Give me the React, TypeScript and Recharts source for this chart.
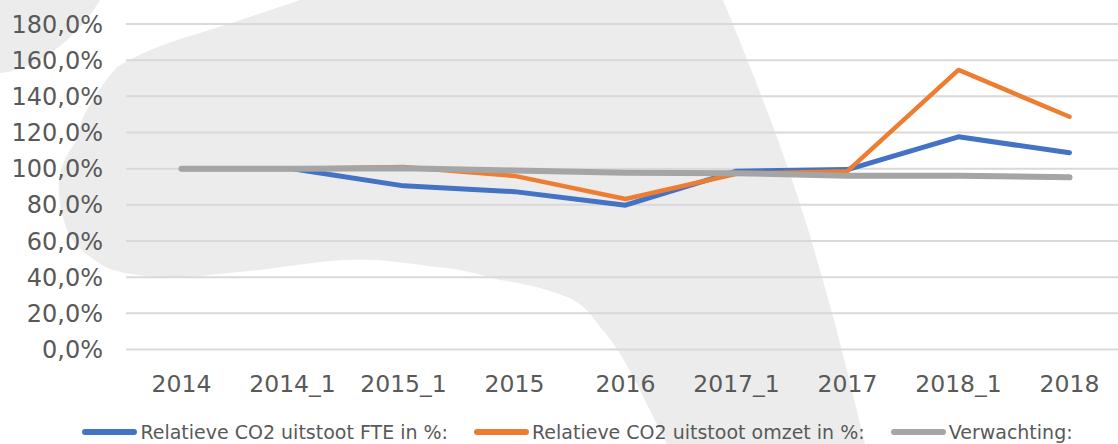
import React from "react";
import { LineChart, Line, XAxis, YAxis, CartesianGrid, Legend } from "recharts";

const categories = ["2014", "2014_1", "2015_1", "2015", "2016", "2017_1", "2017", "2018_1", "2018"];
const fteValues = [100, 100, 90.5, 87.3, 79.8, 98.6, 99.5, 117.6, 108.8];
const omzetValues = [100, 100, 100.9, 96, 83.2, 97.2, 98.6, 154.6, 128.7];
const verwachtingValues = [100, 100, 100.2, 99, 97.7, 97.5, 96.1, 96.1, 95.2];
const yTicks = [0, 20, 40, 60, 80, 100, 120, 140, 160, 180];

const SERIES = [
  { key: "fte", label: "Relatieve CO2 uitstoot FTE in %:", color: "#4472c4", width: 5 },
  { key: "omzet", label: "Relatieve CO2 uitstoot omzet in %:", color: "#ed7d31", width: 4.5 },
  { key: "verwachting", label: "Verwachting:", color: "#a5a5a5", width: 6 },
];

const data = categories.map((name, i) => ({
  name,
  fte: fteValues[i],
  omzet: omzetValues[i],
  verwachting: verwachtingValues[i],
}));

const FONT = "'DejaVu Sans', sans-serif";
const TEXT_COLOR = "#595959";

const formatPct = (v: number) => `${v.toFixed(1).replace(".", ",")}%`;

// light grey watermark shape behind the plot
function Watermark() {
  return (
    <svg width={1118} height={444} style={{ position: "absolute", left: 0, top: 0 }}>
      <path
        fill="#ececec"
        d="M300,0 L723,0 C760,90 795,180 817,260 C835,320 852,390 865,444 L667,444
           C655,420 645,400 633,377 C622,355 612,340 600,327 C590,312 580,302 567,297
           C545,288 520,283 500,280 C475,273 455,268 435,267 C400,262 370,258 344,260
           C300,263 270,270 237,272 C210,275 190,278 166,277 C135,276 110,272 99,263
           C80,250 70,240 67,230 C60,210 58,195 59,180 C62,160 70,150 77,140
           C80,130 80,125 83,117 C95,95 105,80 117,67 C145,50 170,42 200,33
           C235,22 270,10 300,0 Z"
      />
      <path fill="#ececec" d="M0,0 L100,0 C85,25 65,45 40,60 C25,68 12,72 0,73 Z" />
    </svg>
  );
}

function XTick({ x, y, payload }: any) {
  return (
    <text x={x} y={y + 42} textAnchor="middle" fill={TEXT_COLOR} fontSize={23.5} fontFamily={FONT}>
      {payload.value}
    </text>
  );
}

function YTick({ x, y, payload }: any) {
  return (
    <text x={x - 23} y={y} dy="0.36em" textAnchor="end" fill={TEXT_COLOR} fontSize={24} fontFamily={FONT}>
      {formatPct(payload.value)}
    </text>
  );
}

function LegendContent() {
  return (
    <div
      style={{
        display: "flex",
        justifyContent: "center",
        alignItems: "center",
        height: 26,
        marginTop: 5,
        paddingLeft: 30,
        fontFamily: FONT,
        fontSize: 19,
        lineHeight: "22px",
        color: TEXT_COLOR,
        whiteSpace: "nowrap",
      }}
    >
      {SERIES.map((s, i) => (
        <div key={s.key} style={{ display: "flex", alignItems: "center", marginLeft: i === 0 ? 0 : 26 }}>
          <span
            style={{
              display: "inline-block",
              width: 55,
              height: 6,
              borderRadius: 3,
              background: s.color,
              marginRight: 3,
            }}
          />
          <span>{s.label}</span>
        </div>
      ))}
    </div>
  );
}

export default function App() {
  return (
    <div
      style={{
        position: "absolute",
        left: 0,
        top: 0,
        width: 1118,
        height: 444,
        overflow: "hidden",
        background: "#ffffff",
      }}
    >
      <Watermark />
      <div style={{ position: "absolute", left: 0, top: 0 }}>
        <LineChart width={1125} height={444} data={data} margin={{ top: 24, right: 0, bottom: 4, left: 0 }}>
          <CartesianGrid vertical={false} stroke="#d9d9d9" strokeWidth={2} />
          <XAxis
            dataKey="name"
            axisLine={false}
            tickLine={false}
            tickSize={0}
            tickMargin={0}
            height={64.5}
            interval={0}
            padding={{ left: 55.5, right: 55.5 }}
            tick={<XTick />}
          />
          <YAxis
            domain={[0, 180]}
            ticks={yTicks}
            axisLine={false}
            tickLine={false}
            tickSize={0}
            tickMargin={0}
            width={126}
            interval={0}
            tick={<YTick />}
          />
          <Legend verticalAlign="bottom" height={26} content={<LegendContent />} />
          {SERIES.map((s) => (
            <Line
              key={s.key}
              type="linear"
              dataKey={s.key}
              name={s.label}
              stroke={s.color}
              strokeWidth={s.width}
              strokeLinecap="round"
              strokeLinejoin="round"
              dot={false}
              activeDot={false}
              isAnimationActive={false}
            />
          ))}
        </LineChart>
      </div>
    </div>
  );
}
